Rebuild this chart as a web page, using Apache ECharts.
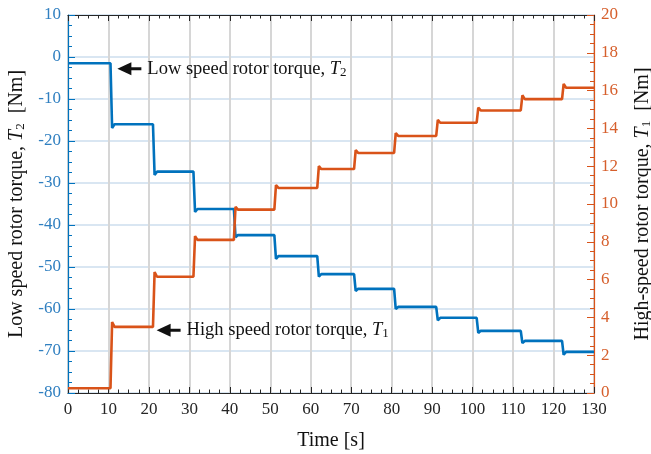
<!DOCTYPE html>
<html><head><meta charset="utf-8">
<script src="https://cdn.jsdelivr.net/npm/echarts@6/dist/echarts.min.js"></script>
<style>html,body{margin:0;padding:0;background:#fff}#c{width:651px;height:454px}</style>
</head><body><div id="c"></div>
<script>
// ---- data ----
const stepTimes   = [10.5, 21.0, 31.0, 41.0, 51.0, 61.6, 70.7, 80.6, 91.0, 101.0, 111.9, 122.1];
const lowLevels   = [-1.5, -16.0, -27.3, -36.2, -42.4, -47.4, -51.7, -55.2, -59.5, -62.1, -65.2, -67.6, -70.2];
const lowOvershoot= [-16.9, -28.1, -36.9, -42.9, -48.1, -52.3, -55.7, -60.0, -62.7, -65.7, -68.1, -70.9];
const highLevels  = [0.25, 3.5, 6.15, 8.1, 9.7, 10.85, 11.85, 12.7, 13.6, 14.3, 14.95, 15.55, 16.15];
const highOvershoot=[3.75, 6.4, 8.3, 9.85, 11.0, 12.0, 12.85, 13.75, 14.45, 15.1, 15.75, 16.35];
const xTicks = {min: 0, max: 130, interval: 10};
const leftTicks = {min: -80, max: 10, interval: 10};
const rightTicks = {min: 0, max: 20, interval: 2};
const lowLabel = 'Low speed rotor torque, ';
const highLabel = 'High speed rotor torque, ';
const lowAnchor = [12.2, -2.8];   // arrow tip (time, T2)
const highAnchor = [21.9, 3.32];  // arrow tip (time, T1)

const BLUE = '#0072BD', ORANGE = '#D95319';
const BLUE_T = '#2f7fc0', ORANGE_T = '#d65f2c';
const FONT = 'Liberation Serif';

function buildSeries(levels, over) {
  const pts = [];
  for (let i = 0; i < levels.length; i++) {
    const s = i === 0 ? 0 : stepTimes[i - 1];
    const e = i === levels.length - 1 ? 130 : stepTimes[i];
    if (i > 0) {
      pts.push([s + 0.4, over[i - 1]]);
      pts.push([s + 1.0, levels[i]]);
    } else {
      pts.push([s, levels[i]]);
    }
    pts.push([e, levels[i]]);
  }
  return pts;
}

const richName = {
  i: {fontFamily: FONT, fontStyle: 'italic', fontSize: 20, color: '#111'},
  s: {fontFamily: FONT, fontSize: 13, color: '#111', padding: [8, 0, 0, 0]}
};

const chart = echarts.init(document.getElementById('c'), null, {renderer: 'canvas'});
const axisCommonX = {
  type: 'value', min: xTicks.min, max: xTicks.max, interval: xTicks.interval,
  axisLine: {show: true, onZero: false, lineStyle: {color: '#262626', width: 1.2}},
  axisTick: {show: true, inside: true, length: 6, lineStyle: {color: '#262626'}},
  minorTick: {show: true, splitNumber: 4, length: 3.5, lineStyle: {color: '#262626'}},
};
const option = {
  animation: false,
  grid: {left: 68, right: 57, top: 15, bottom: 61, containLabel: false, outerBoundsMode: 'none'},
  xAxis: [
    Object.assign({}, axisCommonX, {
      position: 'bottom',
      axisLabel: {color: '#262626', fontFamily: FONT, fontSize: 17, margin: 8},
      splitLine: {show: true, lineStyle: {color: '#d6d6d6', width: 2}},
      name: 'Time [s]', nameLocation: 'middle', nameGap: 38,
      nameTextStyle: {fontFamily: FONT, fontSize: 20, color: '#111'}
    }),
    Object.assign({}, axisCommonX, {
      position: 'top', axisLabel: {show: false}, splitLine: {show: false}
    })
  ],
  yAxis: [
    {
      type: 'value', position: 'left', min: leftTicks.min, max: leftTicks.max, interval: leftTicks.interval,
      axisLine: {show: true, onZero: false, lineStyle: {color: BLUE, width: 1.2}},
      axisTick: {show: true, inside: true, length: 7, lineStyle: {color: BLUE}},
      minorTick: {show: true, splitNumber: 4, length: 4, lineStyle: {color: BLUE}},
      axisLabel: {color: BLUE_T, fontFamily: FONT, fontSize: 17, margin: 7},
      splitLine: {show: true, lineStyle: {color: '#d9e6f2', width: 2}},
      name: 'Low speed rotor torque, {i|T}{s|2}  [Nm]', nameLocation: 'middle', nameGap: 40,
      nameTextStyle: {fontFamily: FONT, fontSize: 20, color: '#111', rich: richName}
    },
    {
      type: 'value', position: 'right', min: rightTicks.min, max: rightTicks.max, interval: rightTicks.interval,
      axisLine: {show: true, onZero: false, lineStyle: {color: ORANGE, width: 1.2}},
      axisTick: {show: true, inside: true, length: 7, lineStyle: {color: ORANGE}},
      minorTick: {show: true, splitNumber: 4, length: 4, lineStyle: {color: ORANGE}},
      axisLabel: {color: ORANGE_T, fontFamily: FONT, fontSize: 17, margin: 7},
      splitLine: {show: false},
      name: 'High-speed rotor torque, {i|T}{s|1}  [Nm]', nameLocation: 'middle', nameGap: 38,
      nameRotate: 90,
      nameTextStyle: {fontFamily: FONT, fontSize: 20, color: '#111', rich: richName}
    }
  ],
  series: [
    {type: 'line', name: 'T2', xAxisIndex: 0, yAxisIndex: 0, showSymbol: false, z: 3,
     lineStyle: {color: BLUE, width: 2.6}, data: buildSeries(lowLevels, lowOvershoot)},
    {type: 'line', name: 'T1', xAxisIndex: 0, yAxisIndex: 1, showSymbol: false, z: 4,
     lineStyle: {color: ORANGE, width: 2.6}, data: buildSeries(highLevels, highOvershoot)}
  ]
};
chart.setOption(option);

function annot(tip, label, sub) {
  return {
    type: 'group', x: tip[0], y: tip[1], z: 100,
    children: [
      {type: 'line', shape: {x1: 10, y1: 0, x2: 24, y2: 0}, style: {stroke: '#111', lineWidth: 3}},
      {type: 'polygon', shape: {points: [[0, 0], [14, -6.5], [14, 6.5]]}, style: {fill: '#111'}},
      {type: 'text', x: 30, y: 0, style: {
        text: '{n|' + label + '}{i|T}{s|' + sub + '}',
        verticalAlign: 'middle', align: 'left',
        rich: {
          n: {fontFamily: FONT, fontSize: 18.5, fill: '#111', color: '#111'},
          i: {fontFamily: FONT, fontSize: 18.5, fontStyle: 'italic', fill: '#111', color: '#111'},
          s: {fontFamily: FONT, fontSize: 13, fill: '#111', color: '#111', padding: [7, 0, 0, 0]}
        }
      }}
    ]
  };
}
const pLow = chart.convertToPixel({xAxisIndex: 0, yAxisIndex: 0}, lowAnchor);
const pHigh = chart.convertToPixel({xAxisIndex: 0, yAxisIndex: 1}, highAnchor);
chart.setOption({graphic: [annot(pLow, lowLabel, '2'), annot(pHigh, highLabel, '1')]});
</script></body></html>
